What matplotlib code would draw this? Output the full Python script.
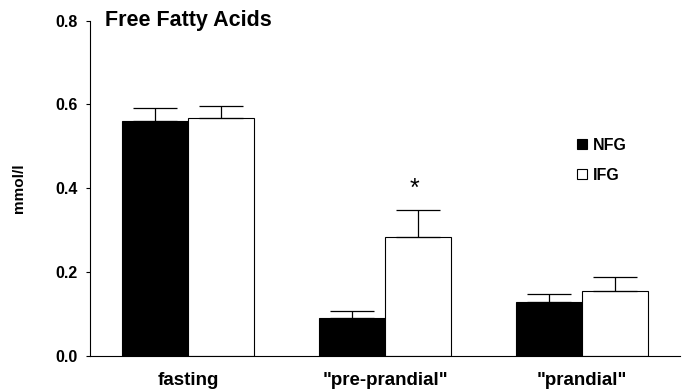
import numpy as np
import matplotlib.pyplot as plt

plt.rcParams['font.family'] = ['Liberation Sans', 'DejaVu Sans']
plt.rcParams['font.weight'] = 'bold'

# data
categories = ['fasting', '"pre-prandial"', '"prandial"']
nfg_mean = [0.56, 0.09, 0.127]
nfg_err = [0.031, 0.017, 0.019]
ifg_mean = [0.568, 0.283, 0.153]
ifg_err = [0.028, 0.065, 0.035]

x = np.arange(len(categories))
w = 0.335

fig = plt.figure(figsize=(6.85, 3.89), dpi=100)
ax = fig.add_axes([0.1314, 0.0861, 0.8613, 0.8607])

ax.bar(x - w / 2, nfg_mean, w, color='black', edgecolor='black', linewidth=0.8,
       yerr=[np.zeros(3), nfg_err], error_kw=dict(ecolor='black', elinewidth=0.9, capsize=16, capthick=0.9),
       label='NFG')
ax.bar(x + w / 2, ifg_mean, w, color='white', edgecolor='black', linewidth=0.8,
       yerr=[np.zeros(3), ifg_err], error_kw=dict(ecolor='black', elinewidth=0.9, capsize=16, capthick=0.9),
       label='IFG')

# significance marker
ax.text(x[1] + w / 2 - 0.02, ifg_mean[1] + ifg_err[1] + 0.05, '*', ha='center', va='center',
        fontsize=18, fontweight='normal')

ax.set_xlim(-0.5, 2.5)
ax.set_ylim(0, 0.8)
ax.set_yticks([0.0, 0.2, 0.4, 0.6, 0.8])
ax.set_yticklabels(['0.0', '0.2', '0.4', '0.6', '0.8'], fontsize=11.5, fontweight='bold')
ax.set_xticks(x)
ax.set_xticklabels(categories, fontsize=13.5, fontweight='bold')
ax.tick_params(axis='x', length=0, pad=12)
ax.tick_params(axis='y', length=3, width=0.8, direction='out', pad=6)

ax.spines['top'].set_visible(False)
ax.spines['right'].set_visible(False)
ax.spines['left'].set_linewidth(0.8)
ax.spines['bottom'].set_linewidth(0.8)

ax.set_ylabel('mmol/l', fontsize=11, fontweight='bold', labelpad=21)
ax.text(0.025, 1.0, 'Free Fatty Acids', transform=ax.transAxes, fontsize=15.5,
        fontweight='bold', va='center', ha='left')

ax.legend(loc='upper left', bbox_to_anchor=(0.815, 0.67), frameon=False, fontsize=11.5,
          handlelength=0.6, handleheight=0.6, handletextpad=0.4, labelspacing=0.95,
          borderaxespad=0)

plt.savefig('out.png', dpi=100)
